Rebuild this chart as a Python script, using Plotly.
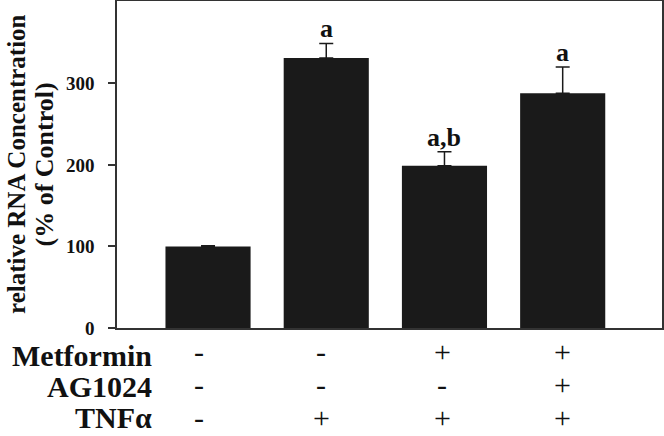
import plotly.graph_objects as go

categories = [0, 1, 2, 3]
values = [100, 331, 199, 288]
errors = [1, 18, 17, 32]
sig_labels = ["", "a", "a,b", "a"]
row_names = ["Metformin", "AG1024", "TNFα"]
row_signs = [
    ["-", "-", "+", "+"],
    ["-", "-", "-", "+"],
    ["-", "+", "+", "+"],
]
y_ticks = [0, 100, 200, 300]

SERIF = "Liberation Serif"
INK = "#111111"

fig = go.Figure()
fig.add_trace(go.Bar(
    x=categories, y=values,
    marker=dict(color="#1a1a1a", line=dict(width=0)),
    error_y=dict(type="data", array=errors, arrayminus=[0] * 4, symmetric=False,
                 color="#1a1a1a", thickness=1.5, width=7),
    width=0.72,
))

PLOT_TOP, PLOT_BOT = 1, 328


def py(ypix):
    return (PLOT_BOT - ypix) / (PLOT_BOT - PLOT_TOP)


def px(xpix):
    return (xpix - 117) / 545


annotations = []
for c, v, e, s in zip(categories, values, errors, sig_labels):
    if s:
        annotations.append(dict(x=c, y=v + e, xref="x", yref="y", text=s, showarrow=False,
                                yanchor="bottom", yshift=-2,
                                font=dict(family=SERIF, size=26, color=INK, weight="bold")))

label_y = [355, 386, 417]
sign_y = [351, 384, 417]
col_shift = [-9, -5, -2, 0]
for name, ly, sy, signs in zip(row_names, label_y, sign_y, row_signs):
    annotations.append(dict(x=px(154), y=py(ly), xref="paper", yref="paper",
                            text=name, showarrow=False, xanchor="right", yanchor="middle",
                            font=dict(family=SERIF, size=30, color=INK, weight="bold")))
    for c, sg, sh in zip(categories, signs, col_shift):
        annotations.append(dict(x=c, y=py(sy), xref="x", yref="paper", text=sg, showarrow=False,
                                xanchor="center", yanchor="middle", xshift=sh,
                                font=dict(family=SERIF, size=30, color=INK)))

annotations.append(dict(x=px(1), y=0.5, xref="paper", yref="paper",
                        text="relative RNA Concentration",
                        textangle=-90, showarrow=False, xanchor="left", yanchor="middle",
                        font=dict(family=SERIF, size=25, color=INK, weight="bold")))
annotations.append(dict(x=px(44), y=0.5, xref="paper", yref="paper",
                        text="(% of Control)",
                        textangle=-90, showarrow=False, xanchor="center", yanchor="middle",
                        font=dict(family=SERIF, size=26, color=INK, weight="bold")))

fig.update_layout(
    template="none",
    width=664, height=436,
    margin=dict(l=117, r=2, t=PLOT_TOP, b=436 - PLOT_BOT, autoexpand=False),
    plot_bgcolor="white", paper_bgcolor="white",
    showlegend=False,
    annotations=annotations,
    xaxis=dict(range=[-0.77, 3.84], showticklabels=False, ticks="", showgrid=False,
               zeroline=False, showline=True, linecolor="#333", linewidth=1.5, mirror=True,
               automargin=False),
    yaxis=dict(range=[0, 401], tickvals=y_ticks, ticks="outside", ticklen=7, tickwidth=1.5,
               tickcolor="#333", showgrid=False, zeroline=False, showline=True,
               linecolor="#333", linewidth=1.5, mirror=True, automargin=False,
               tickfont=dict(family=SERIF, size=19, color=INK, weight="bold"),
               ticklabelstandoff=10),
)

fig.write_html("out.html", config={"displayModeBar": False},
               post_script="document.body.style.margin='0';")
